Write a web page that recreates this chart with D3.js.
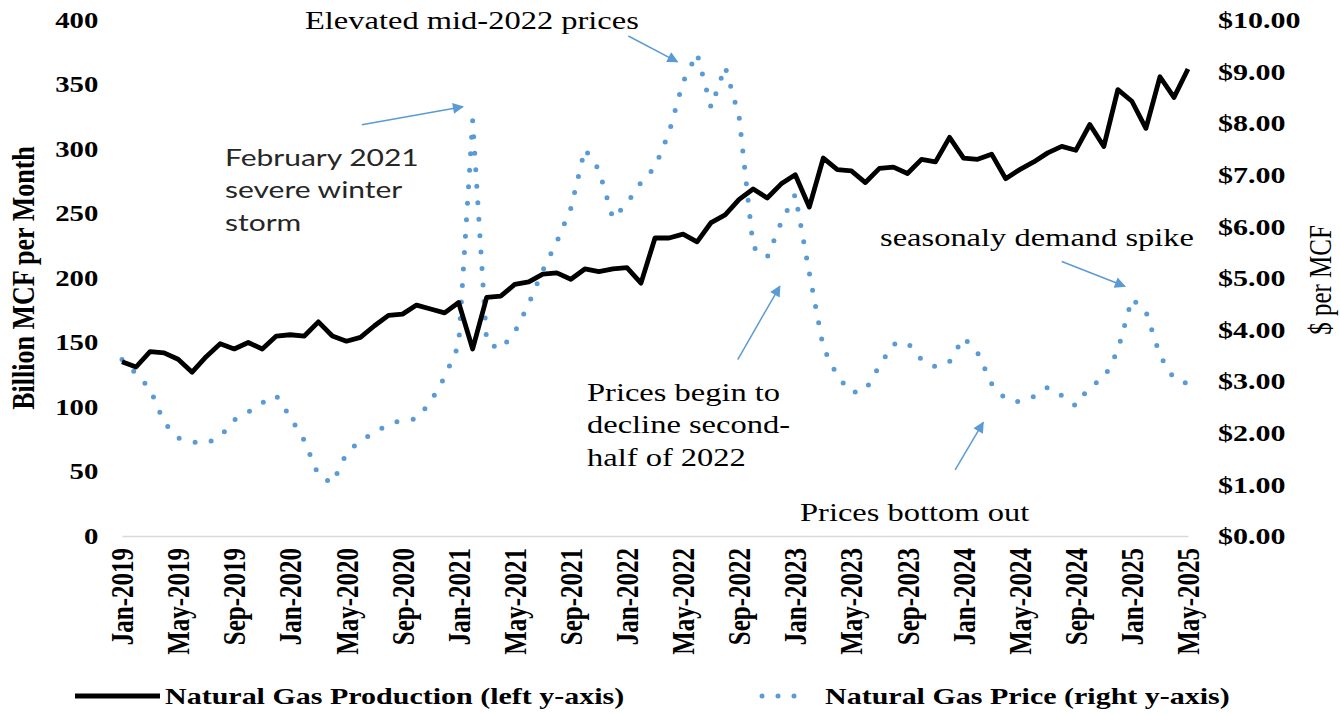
<!DOCTYPE html>
<html>
<head>
<meta charset="utf-8">
<script src="https://cdn.jsdelivr.net/npm/d3@7"></script>
<style>
  body { margin: 0; background: #fff; }
  #chart svg { display: block; }
</style>
</head>
<body>
<div id="chart"></div>
<script>
// monthly categories, Jan-2019 .. May-2025
const months = d3.timeMonth.range(new Date(2019, 0, 1), new Date(2025, 5, 1));
const monthLabels = months.map(d3.timeFormat("%b-%Y"));

// Natural gas production, billion MCF per month (left axis)
const production = [
  135, 131, 143, 142, 137, 127, 139, 149, 145, 150,
  145, 155, 156, 155, 166, 155, 151, 154, 163, 171,
  172, 179, 176, 173, 181, 145, 185, 186, 195, 197,
  203, 204, 199, 207, 205, 207, 208, 196, 231, 231,
  234, 228, 243, 249, 261, 269, 262, 273, 280, 255,
  293, 284, 283, 274, 285, 286, 281, 292, 290, 309,
  293, 292, 296, 277, 284, 290, 297, 302, 299, 319,
  302, 346, 337, 316, 356, 340, 362
];

// Natural gas price, $ per MCF (right axis)
const price = [
  3.42, 3.15, 2.85, 2.20, 1.90, 1.82, 1.80, 1.92, 2.25, 2.40,
  2.58, 2.72, 2.30, 1.85, 1.18, 1.02, 1.60, 1.85, 2.00, 2.17,
  2.24, 2.27, 2.60, 3.08, 3.70, 8.05, 3.75, 3.62, 3.95, 4.50,
  5.15, 5.70, 6.35, 7.50, 7.10, 6.15, 6.45, 6.85, 7.15, 7.82,
  8.80, 9.35, 8.30, 9.10, 8.12, 5.60, 5.40, 6.08, 6.62, 5.10,
  3.65, 3.10, 2.78, 2.82, 3.30, 3.72, 3.75, 3.42, 3.28, 3.38,
  3.85, 3.55, 2.95, 2.65, 2.60, 2.70, 2.88, 2.72, 2.52, 2.90,
  3.05, 3.60, 4.60, 4.35, 3.50, 3.05, 2.95
];

const leftTicks = [0, 50, 100, 150, 200, 250, 300, 350, 400];
const rightTicks = [0, 1, 2, 3, 4, 5, 6, 7, 8, 9, 10];
const xTickIdx = d3.range(0, months.length, 4);

// annotation arrows: tail / tip in (month index, $ per MCF)
const notes = [
  { lines: ["February 2021", "severe winter", "storm"], x: 225, y: 166, sans: true,
    tail: [17.1, 7.97], tip: [24.3, 8.32] },
  { lines: ["Elevated mid-2022 prices"], x: 305, y: 29,
    tail: [36.1, 9.69], tip: [39.6, 9.19] },
  { lines: ["Prices begin to", "decline second-", "half of 2022"], x: 587, y: 401,
    tail: [43.9, 3.42], tip: [46.9, 4.84] },
  { lines: ["seasonaly demand spike"], x: 880, y: 246,
    tail: [67.0, 5.32], tip: [71.5, 4.84] },
  { lines: ["Prices bottom out"], x: 800, y: 521,
    tail: [59.4, 1.28], tip: [61.4, 2.20] }
];

const width = 1340, height = 714;
const margin = { top: 20, right: 152, bottom: 178, left: 122 };
const innerWidth = width - margin.left - margin.right;
const innerHeight = height - margin.top - margin.bottom;
const serif = "'Liberation Serif', 'Times New Roman', serif";
const blue = "#5b9bd5";
// the source type is set wide: glyphs are stretched sideways by this much
const sx = 1.25;

const svg = d3.select("#chart")
  .append("svg")
  .attr("width", width)
  .attr("height", height);

svg.append("defs").append("marker")
  .attr("id", "head")
  .attr("markerUnits", "userSpaceOnUse")
  .attr("viewBox", "0 0 10 10")
  .attr("refX", 9).attr("refY", 5)
  .attr("markerWidth", 15).attr("markerHeight", 11)
  .attr("orient", "auto")
  .append("path")
  .attr("d", "M0,0 L10,5 L0,10 Z")
  .attr("fill", blue);

const inner = svg.append("g")
  .attr("transform", `translate(${margin.left},${margin.top})`);

// scales
const x = d3.scaleLinear().domain([0, months.length - 1]).range([0, innerWidth]);
const yL = d3.scaleLinear().domain([0, 400]).range([innerHeight, 0]);
const yR = d3.scaleLinear().domain([0, 10]).range([innerHeight, 0]);

// x-axis
const xAxis = inner.append("g")
  .attr("transform", `translate(0,${innerHeight})`)
  .call(d3.axisBottom(x).tickValues(xTickIdx).tickFormat(i => monthLabels[i]).tickSize(0));
xAxis.select(".domain").attr("stroke", "#d9d9d9").attr("stroke-width", 1.6);
xAxis.selectAll("text")
  .attr("transform", `scale(${sx},1) rotate(-90)`)
  .attr("text-anchor", "end")
  .attr("x", -12)
  .attr("y", 0)
  .attr("dy", "0.34em")
  .attr("font-family", serif)
  .attr("font-weight", "bold")
  .attr("font-size", 25)
  .attr("fill", "#000");

// left axis
const leftAxis = inner.append("g")
  .call(d3.axisLeft(yL).tickValues(leftTicks).tickSize(0).tickPadding(19));
leftAxis.select(".domain").remove();
leftAxis.selectAll("text")
  .attr("transform", `scale(${sx},1)`)
  .attr("font-family", serif).attr("font-weight", "bold")
  .attr("font-size", 23).attr("fill", "#000");

// right axis
const rightAxis = inner.append("g")
  .attr("transform", `translate(${innerWidth},0)`)
  .call(d3.axisRight(yR).tickValues(rightTicks).tickFormat(d => "$" + d.toFixed(2)).tickSize(0).tickPadding(24));
rightAxis.select(".domain").remove();
rightAxis.selectAll("text")
  .attr("transform", `scale(${sx},1)`)
  .attr("font-family", serif).attr("font-weight", "bold")
  .attr("font-size", 24).attr("fill", "#000");

// axis titles
svg.append("text")
  .attr("transform", `translate(34,278) scale(${sx},1) rotate(-90)`)
  .attr("text-anchor", "middle")
  .attr("font-family", serif).attr("font-weight", "bold").attr("font-size", 26)
  .text("Billion MCF per Month");

svg.append("text")
  .attr("transform", `translate(1331,280) scale(${sx},1) rotate(-90)`)
  .attr("text-anchor", "middle")
  .attr("font-family", serif).attr("font-size", 25)
  .text("$ per MCF");

// price line (dotted)
inner.append("path")
  .datum(price)
  .attr("fill", "none")
  .attr("stroke", blue)
  .attr("stroke-width", 5)
  .attr("stroke-linecap", "round")
  .attr("stroke-dasharray", "0 16.5")
  .attr("d", d3.line().x((d, i) => x(i)).y(d => yR(d)));

// production line
inner.append("path")
  .datum(production)
  .attr("fill", "none")
  .attr("stroke", "#000")
  .attr("stroke-width", 4.8)
  .attr("stroke-linejoin", "round")
  .attr("d", d3.line().x((d, i) => x(i)).y(d => yL(d)));

// annotations
notes.forEach(n => {
  inner.append("line")
    .attr("x1", x(n.tail[0])).attr("y1", yR(n.tail[1]))
    .attr("x2", x(n.tip[0])).attr("y2", yR(n.tip[1]))
    .attr("stroke", blue).attr("stroke-width", 1.5)
    .attr("marker-end", "url(#head)");

  const t = svg.append("text")
    .attr("transform", `translate(${n.x},${n.y}) scale(${sx},1)`)
    .attr("font-family", n.sans ? "Lato, 'Open Sans', sans-serif" : serif)
    .attr("font-size", n.sans ? 24 : 26)
    .attr("fill", n.sans ? "#262626" : "#000");
  n.lines.forEach((line, i) => {
    t.append("tspan").attr("x", 0).attr("y", i * 32.5).text(line);
  });
});

// legend
const legend = svg.append("g").attr("transform", "translate(0,696)");
legend.append("line")
  .attr("x1", 75).attr("x2", 160)
  .attr("stroke", "#000").attr("stroke-width", 5);
legend.append("text")
  .attr("transform", `translate(165,8) scale(${sx},1)`)
  .attr("font-family", serif).attr("font-weight", "bold").attr("font-size", 24)
  .text("Natural Gas Production (left y-axis)");
legend.append("line")
  .attr("x1", 762).attr("x2", 810)
  .attr("stroke", blue).attr("stroke-width", 5)
  .attr("stroke-linecap", "round").attr("stroke-dasharray", "0 16");
legend.append("text")
  .attr("transform", `translate(825,8) scale(${sx},1)`)
  .attr("font-family", serif).attr("font-weight", "bold").attr("font-size", 24)
  .text("Natural Gas Price (right y-axis)");
</script>
</body>
</html>
